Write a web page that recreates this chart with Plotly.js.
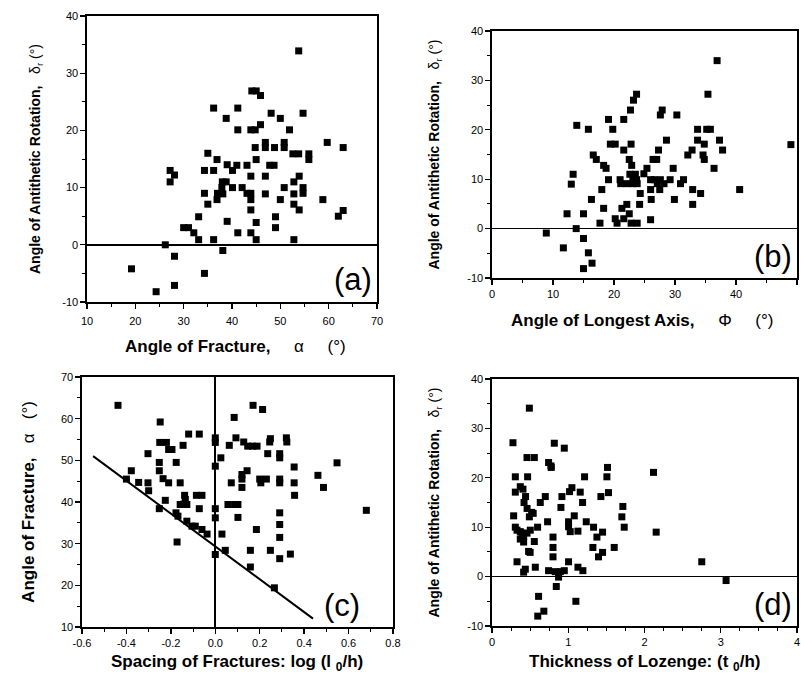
<!DOCTYPE html>
<html>
<head>
<meta charset="utf-8">
<script src="https://cdn.plot.ly/plotly-3.0.1.min.js"></script>
<style>html,body{margin:0;padding:0;background:#fff;}#chart{width:801px;height:683px;}</style>
</head>
<body>
<div id="chart"></div>
<script>
// Panel (a): angle of fracture vs antithetic rotation
const aX = [53.8,44.1,45.0,45.9,36.2,41.2,38.8,48.1,50.0,54.7,41.2,43.9,44.8,45.9,51.9,59.7,63,46.9,46.9,44.8,48.8,50.8,50.8,52.6,53.8,55.9,55.9,35.0,36.9,45.0,27.2,28.1,27.2,34.3,36.2,39.0,41.0,43.1,40.1,43.9,46.9,47.8,48.7,53.9,38.0,38.8,37.9,37.0,40.1,42.1,43.1,43.9,52.8,54.7,54.7,50.8,34.3,38.1,36.9,43.9,46.9,52.8,50.0,58.8,35.0,43.9,52.8,53.9,33.1,49.0,62,63,39.0,45.0,30.0,31.0,32.1,49.0,41.2,43.9,33.1,36.2,45.0,52.8,26.2,28.1,38.1,19.2,34.3,28.1,24.3];
const aY = [33.9,26.9,26.9,26.1,23.9,23.9,22.1,23.0,22.1,23.0,20.1,20.1,20.1,21.0,20.1,17.9,17,17.9,17.0,17.0,17.0,17.9,17.0,15.9,15.9,15.9,14.9,16.0,14.9,14.9,13.0,12.2,11.0,13.0,13.0,14.0,13.9,13.9,13.0,12.0,12.0,13.9,13.9,12.0,11.0,11.0,10.0,9.0,10.0,10.0,9.0,9.0,11.0,10.0,9.0,10.0,9.0,8.9,7.9,7.9,8.9,8.9,7.9,7.9,7.1,6.1,7.1,6.1,4.9,4.9,5,6,4.1,3.9,3.0,3.0,2.1,3.0,2.1,2.1,0.9,0.9,0.9,0.9,0,-2.0,-1.0,-4.2,-5.0,-7.1,-8.2];

// Panel (b): angle of longest axis vs antithetic rotation
const bX = [36.9,35.4,23.7,23.2,22.7,27.9,27.6,30.3,19.1,21.6,13.9,15.8,19.8,33.7,35.2,35.8,28.6,33.7,37.3,34.8,37.8,32.8,32.1,34.6,34.8,19.4,20.2,21.6,22.8,27.3,16.6,17.1,22.5,22.9,26.4,27.0,18.3,18.7,25.4,29.7,36.4,13.3,13.0,19.1,21.0,22.6,23.1,23.7,23.5,21.1,22.1,23.0,23.8,24.9,24.3,26.0,26.6,27.1,27.6,28.2,29.2,26.0,27.5,30.9,31.4,32.9,34.2,29.9,26.1,18.0,16.3,32.9,24.2,22.1,18.3,21.3,22.5,12.3,15.0,20.2,20.5,21.6,26.0,17.7,22.8,23.8,40.6,49,13.8,8.9,15.0,11.7,15.8,16.4,15.0];
const bY = [34.0,27.2,27.2,26.0,24.0,24.0,23.0,23.0,22.1,22.1,20.9,20.1,20.1,20.1,20.1,20.1,17.9,17.9,17.9,17.1,15.9,15.9,14.9,14.9,14.0,17.1,17.1,15.9,17.1,15.9,14.9,14.0,14.0,12.8,14.0,14.0,12.8,12.2,12.2,12.2,12.2,11.0,9.0,9.9,9.9,11.0,9.9,9.9,11.0,9.1,9.1,9.1,9.1,11.1,7.1,9.9,9.9,9.1,9.9,9.1,9.9,7.9,7.9,9.1,9.9,7.9,7.1,5.9,5.9,7.9,5.9,4.9,4.9,4.9,4.1,4.1,3.0,3.0,3.0,2.0,1.1,2.0,1.8,1.1,1.1,1.1,7.9,17,0,-0.9,-2.0,-3.9,-4.9,-7.0,-8.1];

// Panel (c): spacing of fractures vs angle of fracture
const cX = [-0.438,-0.248,0.085,0.170,0.213,-0.120,-0.072,-0.25,-0.22,-0.21,-0.195,-0.145,0.0,0.0,0.093,0.063,0.128,0.146,0.168,0.188,0.248,0.245,0.32,0.322,0.236,0.29,0.29,-0.303,0.025,-0.252,-0.252,-0.176,0.548,-0.378,0.0,-0.235,-0.21,-0.40,-0.345,-0.303,-0.158,0.072,0.12,0.12,0.143,0.12,0.2,0.23,0.205,0.29,0.29,0.355,0.355,0.357,0.462,0.487,0.68,-0.30,-0.138,-0.135,-0.142,-0.085,-0.06,-0.225,-0.158,-0.128,0.057,0.087,0.102,-0.072,-0.252,0.0,0.0,0.102,0.29,0.29,-0.177,-0.168,-0.128,-0.105,-0.09,-0.06,-0.037,0.185,0.03,0.29,-0.172,0.0,0.045,0.158,0.248,0.29,0.338,0.158,0.266];
const cY = [63.2,59.2,60.3,63.2,62.2,56.3,56.3,54.3,54.3,52.6,52.6,53.6,55.4,54.3,55.4,53.6,54.4,53.4,53.4,53.4,55.2,54.4,55.4,54.4,51.6,51.6,50.6,51.6,50.6,49.5,47.5,49.5,49.4,47.5,48.6,45.6,44.6,45.5,44.7,44.6,44.6,44.6,46.6,45.5,47.5,43.5,45.5,45.5,44.6,45.5,44.6,48.4,44.6,41.6,46.4,43.5,38.0,42.7,41.6,40.6,39.5,41.6,41.6,40.4,39.4,39.4,39.4,39.4,39.4,38.4,38.4,38.4,36.2,36.3,37.4,34.6,37.4,36.6,35.4,34.2,34.2,33.4,32.3,33.4,32.3,31.5,30.4,27.4,28.4,28.4,28.4,26.4,27.5,24.4,19.4];
const cFitX = [-0.55, 0.44];
const cFitY = [51, 12];

// Panel (d): thickness of lozenge vs antithetic rotation
const dX = [0.49,0.275,0.817,0.948,0.459,0.555,0.742,0.773,0.777,1.515,0.306,0.467,1.214,1.507,2.118,0.371,0.406,0.306,0.44,0.42,0.46,0.52,0.49,0.54,1.048,1.017,1.157,0.699,0.633,0.917,1.428,1.528,1.188,0.904,1.716,0.284,1.079,1.703,1.734,0.729,1.004,1.004,1.026,1.236,1.127,1.332,1.45,1.376,0.306,0.328,0.371,0.393,0.415,0.459,0.502,0.371,0.415,0.598,0.555,0.8,0.8,0.8,2.153,1.323,1.603,1.45,1.397,0.48,0.50,0.328,1.004,2.751,0.568,0.437,0.415,0.742,0.83,0.895,0.948,0.873,1.127,1.192,3.07,0.843,0.611,1.1,0.68,0.6];
const dY = [34.1,27.1,27.0,26.0,24.1,24.1,23.1,22.4,22.1,22.1,20.2,20.2,20.2,20.2,21.1,18.2,17.7,17.1,16.2,15.0,13.8,13.0,12.1,12.8,18.0,17.2,17.1,16.2,15.0,16.2,16.2,17.0,15.0,14.0,14.2,12.3,12.3,12.1,10.0,11.1,11.1,10.1,9.1,11.1,9.2,10.0,9.0,8.0,10.0,9.4,9.1,8.8,8.1,8.8,9.4,7.6,7.0,10.0,7.1,8.0,5.9,4.0,9.0,5.9,5.9,4.9,4.0,5.1,4.9,3.0,3.0,3.0,1.9,1.5,0.9,1.2,1.0,1.0,1.2,-0.1,1.9,1.2,-0.8,-2.0,-4.0,-5.0,-7.0,-8.0];

// Tick labels
const rotTickVals = [-10,0,10,20,30,40];
const rotTickText = ['-10','0','10','20','30','40'];
const cXTickVals = [-0.6,-0.4,-0.2,0.0,0.2,0.4,0.6,0.8];
const cXTickText = ['-0.6','-0.4','-0.2','0.0','0.2','0.4','0.6','0.8'];

const W = 801, H = 683;
const FONT = 'Liberation Sans, Arial, Helvetica, sans-serif';
function dx(a, b) { return [a / W, b / W]; }
function dy(top, bottom) { return [1 - bottom / H, 1 - top / H]; }
function px(x) { return x / W; }
function py(y) { return 1 - y / H; }

function minorOf(step) { return {dtick: step, ticks: 'outside', ticklen: 3, tickwidth: 1, tickcolor: '#000', showgrid: false}; }
function axis(extra) {
  return Object.assign({
    showline: true, linecolor: '#000', linewidth: 1.6, mirror: true,
    ticks: 'outside', ticklen: 5, tickwidth: 1.3, tickcolor: '#000',
    showgrid: false, zeroline: false,
    tickfont: {family: FONT, size: 11, color: '#000'},
    fixedrange: true
  }, extra);
}
function ttl(text, size, standoff) {
  return {text: text, font: {family: FONT, size: size, color: '#000'}, standoff: standoff};
}
function label(text, xr, yr, xf, yf) {
  return {text: text, xref: xr, yref: yr, x: xf, y: yf, xanchor: 'right', yanchor: 'bottom',
    showarrow: false, font: {family: FONT, size: 31, color: '#000'}};
}
function xTitle(text, cx, cy, size) {
  return {text: text, xref: 'paper', yref: 'paper', x: px(cx), y: py(cy), xanchor: 'center', yanchor: 'middle',
    showarrow: false, font: {family: FONT, size: size, color: '#000'}};
}

const mk = {symbol: 'square', size: 7, color: '#000'};
const traces = [
  {x: aX, y: aY, xaxis: 'x', yaxis: 'y', mode: 'markers', type: 'scatter', marker: mk},
  {x: bX, y: bY, xaxis: 'x2', yaxis: 'y2', mode: 'markers', type: 'scatter', marker: mk},
  {x: cX, y: cY, xaxis: 'x3', yaxis: 'y3', mode: 'markers', type: 'scatter', marker: mk},
  {x: cFitX, y: cFitY, xaxis: 'x3', yaxis: 'y3', mode: 'lines', type: 'scatter', line: {color: '#000', width: 2}},
  {x: dX, y: dY, xaxis: 'x4', yaxis: 'y4', mode: 'markers', type: 'scatter', marker: mk}
];

const rotTitle = '<b>Angle of Antithetic Rotation,</b>   δ<sub>r</sub> (°)';

const layout = {
  width: W, height: H, showlegend: false,
  margin: {l: 0, r: 0, t: 0, b: 0},
  paper_bgcolor: '#fff', plot_bgcolor: '#fff',
  xaxis: axis({domain: dx(87, 377), range: [10, 70], dtick: 10, minor: minorOf(5), ticklabelstandoff: 3, anchor: 'y'}),
  yaxis: axis({domain: dy(16, 302), range: [-10, 40], tickvals: rotTickVals, ticktext: rotTickText, minor: minorOf(5),
    zeroline: true, zerolinecolor: '#000', zerolinewidth: 1.6,
    title: ttl(rotTitle, 14, 18), anchor: 'x'}),
  xaxis2: axis({domain: dx(492, 797), range: [0, 50], dtick: 10, minor: minorOf(5), anchor: 'y2'}),
  yaxis2: axis({domain: dy(31, 278), range: [-10, 40], tickvals: rotTickVals, ticktext: rotTickText, minor: minorOf(5),
    zeroline: true, zerolinecolor: '#000', zerolinewidth: 1.6,
    title: ttl(rotTitle, 14, 24), anchor: 'x2'}),
  xaxis3: axis({domain: dx(82, 393), range: [-0.6, 0.8], tickvals: cXTickVals, ticktext: cXTickText, minor: minorOf(0.1),
    zeroline: true, zerolinecolor: '#000', zerolinewidth: 1.6, anchor: 'y3'}),
  yaxis3: axis({domain: dy(377, 627), range: [10, 70], dtick: 10, minor: minorOf(5),
    title: ttl('<b>Angle of Fracture,</b>   α   (°)', 17, 22), anchor: 'x3'}),
  xaxis4: axis({domain: dx(492, 797), range: [0, 4], dtick: 1, minor: minorOf(0.25), anchor: 'y4'}),
  yaxis4: axis({domain: dy(379, 626), range: [-10, 40], tickvals: rotTickVals, ticktext: rotTickText, minor: minorOf(5),
    zeroline: true, zerolinecolor: '#000', zerolinewidth: 1.6,
    title: ttl(rotTitle, 14, 24), anchor: 'x4'}),
  annotations: [
    xTitle('<b>Angle of Fracture,</b>     α     (°)', 235, 346, 17),
    xTitle('<b>Angle of Longest Axis,</b>     Φ     (°)', 642, 320, 17),
    xTitle('<b>Spacing of Fractures: log (l <sub>0</sub>/h)</b>', 237, 663, 17),
    xTitle('<b>Thickness of Lozenge: (t <sub>0</sub>/h)</b>', 644, 663, 17),
    label('(a)', 'x domain', 'y domain', 0.99, 0.01),
    label('(b)', 'x2 domain', 'y2 domain', 0.99, 0.01),
    label('(c)', 'x3 domain', 'y3 domain', 0.9, 0.01),
    label('(d)', 'x4 domain', 'y4 domain', 0.99, 0.01)
  ]
};

Plotly.newPlot('chart', traces, layout, {displayModeBar: false, staticPlot: true});
</script>
</body>
</html>
